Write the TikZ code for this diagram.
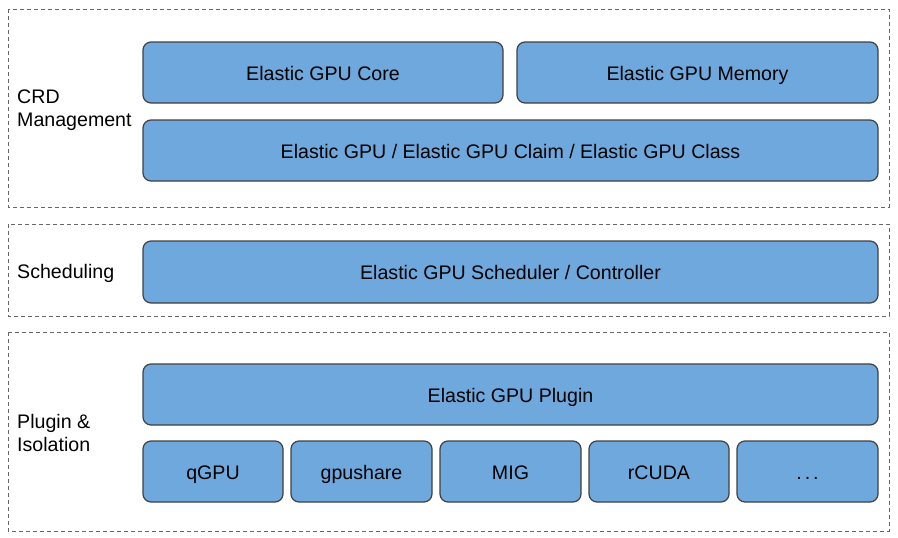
\documentclass[tikz,border=0pt]{standalone}
\usepackage{fontspec}
\setmainfont{Liberation Sans}
\begin{document}
\begin{tikzpicture}[x=1pt,y=-1pt,
  blk/.style={draw=black!75,line width=1.2pt,fill=blkfill,rounded corners=8pt},
  txt/.style={draw=none,fill=none,inner sep=0pt,text height=16.5pt,text depth=1.5pt,font=\fontsize{19.6}{23}\selectfont},
  layer/.style={draw=black!60,line width=0.9pt,dash pattern=on 4pt off 3pt},
  lbl/.style={anchor=west,align=left,font=\fontsize{19.6}{23.5}\selectfont,inner sep=0pt}]
\definecolor{blkfill}{HTML}{6FA8DC}
\useasboundingbox (0,0) rectangle (898,538);
% layers
\draw[layer] (8,9) rectangle (889,207);
\draw[layer] (8,224) rectangle (889,316);
\draw[layer] (8,332) rectangle (889,531);
% labels
\node[lbl] (crd) at (17,110) {CRD\\Management};
\node[lbl] (sched) at (17,273) {Scheduling};
\node[lbl] (plug) at (17,433) {Plugin \&\\Isolation};
% blocks
\newcommand{\blkat}[6]{\draw[blk] (#2,#3) rectangle (#4,#5) node[midway,txt] (#1) {#6};}
\blkat{core}{143}{42}{503}{103}{Elastic GPU Core}
\blkat{mem}{517}{42}{878}{103}{Elastic GPU Memory}
\blkat{claim}{143}{120}{878}{181}{Elastic GPU / Elastic GPU Claim / Elastic GPU Class}
\blkat{scheduler}{143}{241}{878}{303}{Elastic GPU Scheduler / Controller}
\blkat{plugin}{143}{364}{878}{425}{Elastic GPU Plugin}
\blkat{qgpu}{143}{441}{283}{502}{qGPU}
\blkat{gpushare}{291}{441}{432}{502}{gpushare}
\blkat{mig}{440}{441}{581}{502}{MIG}
\blkat{rcuda}{589}{441}{729}{502}{rCUDA}
\blkat{more}{737}{441}{878}{502}{.\hspace{3pt}.\hspace{3pt}.}
\end{tikzpicture}
\end{document}
